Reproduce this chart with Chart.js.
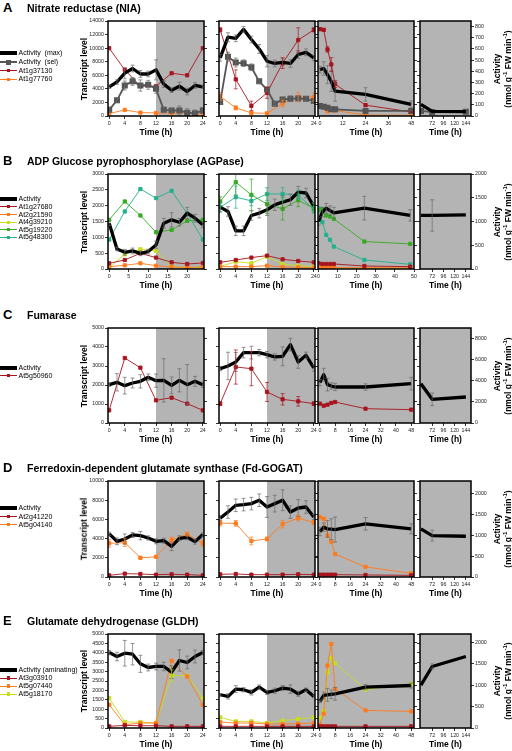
<!DOCTYPE html>
<html><head><meta charset="utf-8">
<script src="https://cdn.jsdelivr.net/npm/chart.js@4.4.0/dist/chart.umd.min.js"></script>
<style>
body{margin:0;background:#fff;width:512px;height:751px;overflow:hidden;position:relative;font-family:"Liberation Sans",Arial,sans-serif;color:#000;}
canvas{position:absolute;}
.t{position:absolute;white-space:nowrap;line-height:1;}
.big{font-weight:bold;font-size:13px;}
.ttl{font-weight:bold;font-size:10.5px;}
.leg{font-size:7px;}
.rot{font-weight:bold;font-size:8.5px;transform:translate(-50%,-50%) rotate(-90deg);}
.ln{position:absolute;}
</style></head><body>
<script>
// time points
var t2 = [0,2,4,6,8,10,12,14,16,18,20,22,24];
var t4 = [0,4,8,12,16,20,24];
var t3 = [0,2,4,6,8,24,48];
var tL = [48,72,144];

// tick labels
var xt24 = [0,4,8,12,16,20,24];
var xt20 = [0,5,10,15,20];
var xt48a = [0,12,24,36,48];
var xt50 = [0,10,20,30,40,50];
var xt48 = [0,8,16,24,32,40,48];
var xt144 = [72,96,120,144];
var yA = [0,2000,4000,6000,8000,10000,12000,14000];
var yB = [0,500,1000,1500,2000,2500,3000];
var yC = [0,1000,2000,3000,4000,5000];
var yD = [0,2000,4000,6000,8000,10000];
var yE = [0,500,1000,1500,2000,2500,3000,3500,4000,4500,5000];
var rA = [0,100,200,300,400,500,600,700,800];
var rB = [0,500,1000,1500,2000];
var rC = [0,2000,4000,6000,8000];
var rD = [0,500,1000,1500,2000];
var rE = [0,500,1000,1500,2000];

// A - nitrate reductase
var A1max = [261,304,383,425,376,376,413,285,231,267,219,273,261];
var A1maxE = [15,20,50,30,30,25,90,30,20,35,30,25,15];
var A1sel = [55,140,273,310,273,279,243,55,49,49,30,24,49];
var A1selE = [15,20,40,35,50,40,40,25,20,40,35,30,25];
var A1g37130 = [10000,6800,4400,4400,6300,6000,10000];
var A1g77760 = [350,900,500,450,450,400,300];
var A2max = [520,705,695,775,685,600,490,470,480,470,550,570,520];
var A2maxE = [30,40,30,25,30,40,50,30,30,35,35,30,25];
var A2sel = [125,530,478,472,436,310,237,110,148,154,157,154,134];
var A2selE = [20,40,40,30,30,20,20,15,20,25,20,20,20];
var A2g37130 = [12700,5400,1500,3400,7800,11200,12700];
var A2g37130E = [300,1400,700,800,800,1800,300];
var A2g77760 = [2900,1200,450,400,1850,2800,2800];
var A2g77760E = [600,300,200,100,500,700,600];
var A3max = [415,425,370,310,222,193,104];
var A3maxE = [30,60,80,90,90,60,30];
var A3sel = [89,83,74,60,60,45,45];
var A3g37130 = [12800,12700,9800,7600,4700,1600,600];
var A3g37130E = [200,200,400,1000,500,200,100];
var A3g77760 = [1600,1300,700,900,800,150,100];
var A4max = [104,42,40];
var A4sel = [45,35,38];

// B - AGPase
var B1act = [965,422,352,380,330,366,507,965,1035,985,1176,1070,930];
var B1actE = [50,40,60,60,50,50,80,100,150,80,120,80,60];
var B1g27680 = [180,285,496,360,211,158,190];
var B1g21590 = [74,116,180,105,63,53,63];
var B1g39210 = [42,465,623,570,74,42,42];
var B1g19220 = [1552,2133,1690,1162,1235,1520,1552];
var B1g48300 = [930,1816,2524,2240,2470,1750,930];
var B2act = [1303,1211,803,803,1127,1176,1246,1352,1408,1458,1620,1600,1317];
var B2actE = [100,100,100,100,100,100,120,120,130,120,120,100,80];
var B2g27680 = [211,285,360,422,306,253,211];
var B2g21590 = [74,74,74,106,63,53,42];
var B2g39210 = [74,232,180,390,158,105,74];
var B2g19220 = [2130,2740,2340,2050,1900,2170,1920];
var B2g19220E = [150,400,500,300,350,200,150];
var B2g48300 = [1950,2270,2150,2370,2370,2340,1880];
var B2g48300E = [150,350,150,200,200,150,100];
var B3act = [1000,1200,1280,1230,1180,1280,1130];
var B3actE = [80,100,100,100,120,250,120];
var B3g27680 = [180,158,158,158,158,95,74];
var B3g21590 = [42,42,42,42,42,42,42];
var B3g39210 = [21,21,21,21,21,21,21];
var B3g19220 = [1870,1890,1690,1658,1584,866,792];
var B3g48300 = [1922,1478,1077,919,707,285,148];
var B4act = [1130,1127,1140];
var B4actE = [0,330,0];

// C - fumarase
var C1act = [3632,3853,3537,3790,3948,4326,4011,4042,3569,4042,3632,3948,3632];
var C1actE = [160,820,790,470,630,320,630,2050,790,1100,1900,470,250];
var C1g50960 = [667,3421,2912,1193,1333,1018,667];
var C2act = [5150,5403,5782,6667,6667,6667,6477,6256,6320,7425,5782,6414,5213];
var C2actE = [200,1300,900,500,600,300,300,300,900,600,600,300,300];
var C2g50960 = [1018,2947,2860,1632,1246,1140,1018];
var C2g50960E = [100,900,900,500,300,250,100];
var C3act = [3823,4581,3634,3500,3412,3412,3728];
var C3actE = [300,600,600,300,350,300,600];
var C3g50960 = [1018,912,965,1053,1105,754,702];
var C4act = [3728,2243,2465];
var C4actE = [0,600,0];

// D - Fd-GOGAT
var D1act = [1032,855,911,1008,992,935,855,871,734,927,952,847,1016];
var D1actE = [40,80,120,60,100,50,60,60,100,60,60,60,40];
var D1g41220 = [175,350,315,245,280,245,175];
var D1g04140 = [3509,3580,2000,2105,3860,4456,3509];
var D1g04140E = [400,400,100,100,300,200,300];
var D2act = [1411,1556,1718,1734,1758,1839,1677,1758,1839,1556,1653,1677,1435];
var D2actE = [60,150,150,150,150,150,250,200,250,150,200,150,60];
var D2g41220 = [280,315,245,245,245,280,245];
var D2g04140 = [5614,5579,3754,3965,5509,6140,5684];
var D2g04140E = [300,300,400,200,400,300,200];
var D3act = [1089,1194,1153,1145,1137,1274,1153];
var D3actE = [100,100,200,250,300,150,120];
var D3g41220 = [245,245,245,245,245,210,175];
var D3g04140 = [6245,6070,4316,3684,2386,1053,386];
var D4act = [1153,992,976];
var D4actE = [0,130,0];

// E - GLDH
var E1act = [1765,1673,1750,1727,1502,1416,1440,1440,1307,1580,1533,1673,1765];
var E1actE = [50,100,300,250,200,80,80,100,150,250,150,150,50];
var E1g03910 = [88,141,120,120,88,88,88];
var E1g07440 = [1237,177,265,265,3569,2739,1237];
var E1g18170 = [1590,318,318,265,2792,2774,1590];
var E1g18170E = [0,0,0,0,300,0,0];
var E2act = [778,739,910,895,833,957,833,872,934,910,802,895,739];
var E2actE = [30,60,80,50,60,50,50,60,60,100,60,40,30];
var E2g03910 = [88,88,88,88,88,88,88];
var E2g07440 = [318,265,265,212,212,230,265];
var E2g18170 = [565,353,353,265,389,477,565];
var E3act = [622,761,777,790,800,956,995];
var E3actE = [30,80,150,100,150,60,60];
var E3g03910 = [88,88,88,88,88,88,88];
var E3g07440 = [180,760,3322,4470,2085,937,883];
var E3g18170 = [520,883,2968,3728,3445,2049,2350];
var E4act = [1000,1440,1673];
var E4actE = [0,60,0];

var RED = '#a8141e', ORA = '#ff7a1c', YEL = '#c6df1a', GRN = '#36ab20', TEAL = '#22b08c';

var serA = [
  {label:'Activity  (max)', kind:'act', d:[A1max,A2max,A3max,A4max], e:[A1maxE,A2maxE,A3maxE,null]},
  {label:'Activity  (sel)', kind:'sel', d:[A1sel,A2sel,A3sel,A4sel], e:[A1selE,A2selE,null,null]},
  {label:'At1g37130', kind:'gene', c:RED, d:[A1g37130,A2g37130,A3g37130,null], e:[null,A2g37130E,A3g37130E,null]},
  {label:'At1g77760', kind:'gene', c:ORA, d:[A1g77760,A2g77760,A3g77760,null], e:[null,A2g77760E,null,null]}
];
var serB = [
  {label:'Activity', kind:'act', d:[B1act,B2act,B3act,B4act], e:[B1actE,B2actE,B3actE,B4actE]},
  {label:'At1g27680', kind:'gene', c:RED, d:[B1g27680,B2g27680,B3g27680,null], e:[]},
  {label:'At2g21590', kind:'gene', c:ORA, d:[B1g21590,B2g21590,B3g21590,null], e:[]},
  {label:'At4g39210', kind:'gene', c:YEL, d:[B1g39210,B2g39210,B3g39210,null], e:[]},
  {label:'At5g19220', kind:'gene', c:GRN, d:[B1g19220,B2g19220,B3g19220,null], e:[null,B2g19220E,null,null]},
  {label:'At5g48300', kind:'gene', c:TEAL, d:[B1g48300,B2g48300,B3g48300,null], e:[null,B2g48300E,null,null]}
];
var serC = [
  {label:'Activity', kind:'act', d:[C1act,C2act,C3act,C4act], e:[C1actE,C2actE,C3actE,C4actE]},
  {label:'At5g50960', kind:'gene', c:RED, d:[C1g50960,C2g50960,C3g50960,null], e:[null,C2g50960E,null,null]}
];
var serD = [
  {label:'Activity', kind:'act', d:[D1act,D2act,D3act,D4act], e:[D1actE,D2actE,D3actE,D4actE]},
  {label:'At2g41220', kind:'gene', c:RED, d:[D1g41220,D2g41220,D3g41220,null], e:[]},
  {label:'At5g04140', kind:'gene', c:ORA, d:[D1g04140,D2g04140,D3g04140,null], e:[D1g04140E,D2g04140E,null,null]}
];
var serE = [
  {label:'Activity (aminating)', kind:'act', d:[E1act,E2act,E3act,E4act], e:[E1actE,E2actE,E3actE,E4actE]},
  {label:'At3g03910', kind:'gene', c:RED, d:[E1g03910,E2g03910,E3g03910,null], e:[]},
  {label:'At5g07440', kind:'gene', c:ORA, d:[E1g07440,E2g07440,E3g07440,null], e:[]},
  {label:'At5g18170', kind:'gene', c:YEL, d:[E1g18170,E2g18170,E3g18170,null], e:[E1g18170E,null,null,null]}
];

// panel x extents on the page
var PX = [[108,204],[219,315],[318,414],[420,471]];

var rowsCfg = [
  {id:'A', title:'Nitrate reductase (NIA)', top:21, bot:116, yMax:14000, yT:yA, rMax:850, rT:rA, x1T:xt24, x3:[-1,49.5], x3T:xt48a, legY:53.3, legDy:8.7, ser:serA},
  {id:'B', title:'ADP Glucose pyrophosphorylase (AGPase)', top:174, bot:269, yMax:3000, yT:yB, rMax:2000, rT:rB, x1T:xt20, x3:[-0.3,50], x3T:xt50, legY:199.3, legDy:7.6, ser:serB},
  {id:'C', title:'Fumarase', top:328, bot:423, yMax:5000, yT:yC, rMax:9000, rT:rC, x1T:xt24, x3:[-1,49.5], x3T:xt48, legY:367.7, legDy:8, ser:serC},
  {id:'D', title:'Ferredoxin-dependent glutamate synthase (Fd-GOGAT)', top:481, bot:577, yMax:10000, yT:yD, rMax:2300, rT:rD, x1T:xt24, x3:[-1,49.5], x3T:xt48, legY:508.3, legDy:8.3, ser:serD},
  {id:'E', title:'Glutamate dehydrogenase (GLDH)', top:634, bot:728, yMax:5000, yT:yE, rMax:2200, rT:rE, x1T:xt24, x3:[-1,49.5], x3T:xt48, legY:670, legDy:8, ser:serE}
];

Chart.defaults.font.family = '"Liberation Sans", Arial, sans-serif';

function framePlugin(shadeFrom) {
  return {
    id: 'frame',
    beforeDatasetsDraw: function(chart) {
      var a = chart.chartArea, ctx = chart.ctx;
      var x = shadeFrom == null ? a.left : chart.scales.x.getPixelForValue(shadeFrom);
      ctx.save();
      ctx.fillStyle = '#b4b4b4';
      ctx.fillRect(x, a.top, a.right - x, a.bottom - a.top);
      ctx.restore();
    },
    afterDatasetsDraw: function(chart) {
      var ctx = chart.ctx, a = chart.chartArea;
      ctx.save();
      ctx.beginPath(); ctx.rect(a.left, a.top, a.right - a.left, a.bottom - a.top); ctx.clip();
      chart.data.datasets.forEach(function(ds, i) {
        if (!ds.errs) return;
        var meta = chart.getDatasetMeta(i), sc = chart.scales[ds.yAxisID];
        ctx.strokeStyle = ds.errColor; ctx.lineWidth = 0.7;
        ds.data.forEach(function(pt, j) {
          var e = ds.errs[j]; if (!e) return;
          var x = meta.data[j].x;
          var y1 = sc.getPixelForValue(pt.y + e), y2 = sc.getPixelForValue(pt.y - e);
          ctx.beginPath();
          ctx.moveTo(x, y1); ctx.lineTo(x, y2);
          ctx.moveTo(x - 2, y1); ctx.lineTo(x + 2, y1);
          ctx.moveTo(x - 2, y2); ctx.lineTo(x + 2, y2);
          ctx.stroke();
        });
      });
      ctx.restore();
    },
    afterDraw: function(chart) {
      var a = chart.chartArea, ctx = chart.ctx;
      ctx.save();
      ctx.strokeStyle = '#000'; ctx.lineWidth = 1.5;
      ctx.strokeRect(a.left, a.top, a.right - a.left, a.bottom - a.top);
      ctx.restore();
    }
  };
}

function makeSet(s, p) {
  var vals = s.d[p];
  if (!vals) return null;
  var ts = p == 3 ? tL : (p == 2 ? t3 : (s.kind == 'gene' ? t4 : t2));
  var pts = ts.map(function(t, i) { return {x: t, y: vals[i]}; });
  var ds = {label: s.label, data: pts, fill: false, tension: 0, errs: s.e ? s.e[p] : null};
  if (s.kind == 'act') {
    Object.assign(ds, {borderColor:'#000', borderWidth:3.3, pointRadius:0, yAxisID:'yR', errColor:'#6a6a6a', borderJoinStyle:'round'});
  } else if (s.kind == 'sel') {
    Object.assign(ds, {borderColor:'#555', backgroundColor:'#555', borderWidth:1.8, pointStyle:'rect', pointRadius:3, yAxisID:'yR', errColor:'#6a6a6a'});
  } else {
    Object.assign(ds, {borderColor:s.c, backgroundColor:s.c, borderWidth:0.9, pointStyle:'rect', pointRadius:2.3, yAxisID:'y', errColor:s.c});
  }
  return ds;
}

function fixTicks(vals) {
  return function(scale) { scale.ticks = vals.map(function(v) { return {value: v}; }); };
}

function buildPanel(row, p) {
  var padL = 32, padR = 32, padT = 6, padB = 24;
  var x0 = PX[p][0], x1 = PX[p][1];
  var cw = x1 - x0 + padL + padR, ch = row.bot - row.top + padT + padB;
  var cv = document.createElement('canvas');
  cv.width = cw; cv.height = ch;
  cv.style.width = cw + 'px'; cv.style.height = ch + 'px';
  cv.style.left = (x0 - padL) + 'px'; cv.style.top = (row.top - padT) + 'px';
  document.body.appendChild(cv);

  var xr, xT;
  if (p < 2) { xr = [-0.3, 24.3]; xT = (p == 0 ? row.x1T : xt24); }
  else if (p == 2) { xr = row.x3; xT = row.x3T; }
  else { xr = [46, 155]; xT = xt144; }

  var sets = row.ser.map(function(s) { return makeSet(s, p); }).filter(function(d) { return d; });
  var tickFont = {size: 5.3};
  var grid = {drawOnChartArea: false, tickLength: 3, color: '#000', lineWidth: 0.8};

  new Chart(cv, {
    type: 'line',
    data: {datasets: sets},
    options: {
      responsive: false, animation: false,
      layout: {padding: {top: padT, left: 0, right: 0, bottom: 0}},
      plugins: {legend: {display: false}, tooltip: {enabled: false}},
      scales: {
        x: {
          type: 'linear', min: xr[0], max: xr[1],
          afterBuildTicks: fixTicks(xT),
          afterFit: function(s) { s.height = padB; },
          grid: grid, border: {display: false},
          ticks: {font: tickFont, color: '#222', padding: 1.5, maxRotation: 0, autoSkip: false, callback: function(v) { return String(v); }},
          title: {display: true, text: 'Time (h)', color: '#000', font: {size: 8.5, weight: 'bold'}, padding: {top: 0, bottom: 2}}
        },
        y: {
          position: 'left', min: 0, max: row.yMax,
          afterBuildTicks: fixTicks(row.yT),
          afterFit: function(s) { s.width = padL; },
          grid: grid, border: {display: false},
          ticks: {display: p == 0, font: tickFont, color: '#222', padding: 1, callback: function(v) { return String(v); }}
        },
        yR: {
          position: 'right', min: 0, max: row.rMax,
          afterBuildTicks: fixTicks(row.rT),
          afterFit: function(s) { s.width = padR; },
          grid: grid, border: {display: false},
          ticks: {display: p == 3, font: tickFont, color: '#222', padding: 1, callback: function(v) { return String(v); }}
        }
      }
    },
    plugins: [framePlugin(p < 2 ? 12 : null)]
  });
}

function addText(cls, html, left, top) {
  var d = document.createElement('div');
  d.className = 't ' + cls;
  d.innerHTML = html;
  d.style.left = left + 'px'; d.style.top = top + 'px';
  document.body.appendChild(d);
  return d;
}

function addBox(left, top, w, h, color) {
  var d = document.createElement('div');
  d.className = 'ln';
  d.style.left = left + 'px'; d.style.top = top + 'px';
  d.style.width = w + 'px'; d.style.height = h + 'px';
  d.style.background = color;
  document.body.appendChild(d);
}

function buildLegend(row) {
  row.ser.forEach(function(s, i) {
    var y = row.legY + i * row.legDy;
    if (s.kind == 'act') {
      addBox(0, y - 2, 17, 4, '#000');
    } else if (s.kind == 'sel') {
      addBox(0, y - 1, 17, 2, '#555');
      addBox(6, y - 2.5, 5, 5, '#555');
    } else {
      addBox(0, y - 0.5, 17, 1, s.c);
      addBox(6.5, y - 1.6, 3.2, 3.2, s.c);
    }
    addText('leg', s.label.replace(/ /g, '&nbsp;'), 18.5, y - 4);
  });
}

rowsCfg.forEach(function(row) {
  for (var p = 0; p < 4; p++) buildPanel(row, p);
  addText('big', row.id, 3, row.top - 20);
  addText('ttl', row.title, 27, row.top - 18.5);
  buildLegend(row);
  var cy = (row.top + row.bot) / 2;
  addText('rot', 'Transcript level', 84, cy);
  addText('rot', 'Activity', 497, cy);
  addText('rot', '(nmol g<sup style="font-size:6px">-1</sup> FW min<sup style="font-size:6px">-1</sup>)', 507, cy);
});
</script>
</body></html>
